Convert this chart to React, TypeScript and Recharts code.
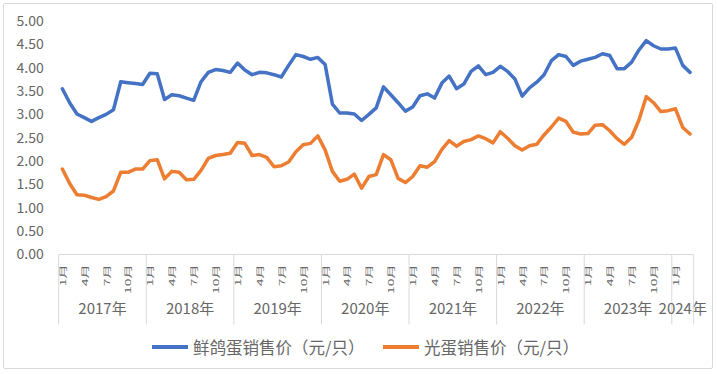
import React from 'react'
import { LineChart, Line, XAxis, YAxis } from 'recharts'

// categories
const years = ['2017年', '2018年', '2019年', '2020年', '2021年', '2022年', '2023年', '2024年']
const monthsInYear = [12, 12, 12, 12, 12, 12, 12, 3]

// 鲜鸽蛋销售价 (元/只), Jan 2017 - Mar 2024
const freshPigeonEgg = [
  3.55, 3.25, 3.01, 2.93, 2.85, 2.93, 3.0, 3.1, 3.7, 3.68, 3.66, 3.64,
  3.88, 3.87, 3.32, 3.42, 3.4, 3.35, 3.3, 3.7, 3.9, 3.96, 3.94, 3.9,
  4.1, 3.95, 3.85, 3.9, 3.89, 3.85, 3.8, 4.05, 4.28, 4.24, 4.18, 4.22,
  4.07, 3.22, 3.03, 3.03, 3.01, 2.87, 3.0, 3.14, 3.59, 3.42, 3.25, 3.07,
  3.16, 3.4, 3.44, 3.35, 3.67, 3.82, 3.55, 3.65, 3.92, 4.04, 3.85, 3.9,
  4.03, 3.92, 3.76, 3.39, 3.57, 3.69, 3.85, 4.15, 4.28, 4.24, 4.05, 4.14,
  4.18, 4.22, 4.3, 4.26, 3.98, 3.98, 4.12, 4.38, 4.58, 4.47, 4.4, 4.4,
  4.42, 4.05, 3.9
]

// 光蛋销售价 (元/只)
const plainEgg = [
  1.83, 1.52, 1.28, 1.27, 1.22, 1.18, 1.24, 1.36, 1.76, 1.76, 1.83, 1.83,
  2.01, 2.03, 1.62, 1.78, 1.76, 1.6, 1.61, 1.8, 2.06, 2.12, 2.14, 2.17,
  2.4, 2.38, 2.12, 2.14, 2.08, 1.88, 1.9, 1.98, 2.2, 2.35, 2.38, 2.54,
  2.24, 1.78, 1.57, 1.61, 1.72, 1.42, 1.67, 1.71, 2.14, 2.03, 1.63, 1.54,
  1.67, 1.9, 1.87, 1.99, 2.25, 2.44, 2.32, 2.42, 2.46, 2.54, 2.48, 2.39,
  2.63, 2.49, 2.33, 2.24, 2.33, 2.36, 2.56, 2.73, 2.92, 2.85, 2.62, 2.58,
  2.59, 2.77, 2.78, 2.65, 2.48, 2.36, 2.51, 2.88, 3.38, 3.25, 3.06, 3.08,
  3.12, 2.72, 2.58
]

const yTicks = [0, 0.5, 1, 1.5, 2, 2.5, 3, 3.5, 4, 4.5, 5]

const SERIES = [
  { key: 'fresh', name: '鲜鸽蛋销售价（元/只）', color: '#4472C4', legendLeft: 152 },
  { key: 'plain', name: '光蛋销售价（元/只）', color: '#ED7D31', legendLeft: 383 }
]

const rows: { idx: number; yearIdx: number; month: number; fresh: number; plain: number }[] = []
years.forEach((_, yi) => {
  for (let m = 1; m <= monthsInYear[yi]; m++) {
    const i = rows.length
    rows.push({ idx: i, yearIdx: yi, month: m, fresh: freshPigeonEgg[i], plain: plainEgg[i] })
  }
})

const W = 717
const H = 374
const PLOT_LEFT = 58.7
const PLOT_RIGHT = 693.7
const PLOT_TOP = 21
const PLOT_BOTTOM = 254.5
const X_AXIS_H = 70
const STEP = (PLOT_RIGHT - PLOT_LEFT) / rows.length
const FONT = '"Noto Sans CJK SC", "Noto Sans", sans-serif'
const GRID = '#d9d9d9'
const TEXT = '#666'

function MonthTick(props: any) {
  const { x, y, index } = props
  const row = rows[index]
  if (!row) return null
  const out: React.ReactNode[] = []
  if (row.month % 3 === 1) {
    out.push(
      <text
        key="m"
        transform={`translate(${x},${y + 10}) rotate(-90) scale(1,0.55)`}
        textAnchor="end"
        dominantBaseline="central"
        fontSize={14}
        fill={TEXT}
        fontFamily={FONT}
      >
        {row.month}月
      </text>
    )
  }
  if (row.month === 1) {
    const left = x - STEP / 2
    const span = monthsInYear[row.yearIdx] * STEP
    out.push(<line key="s" x1={left} x2={left} y1={y} y2={y + 70} stroke={GRID} />)
    out.push(
      <text
        key="y"
        x={left + span / 2}
        y={y + 59}
        textAnchor="middle"
        fontSize={15}
        fill={TEXT}
        fontFamily={FONT}
      >
        {years[row.yearIdx]}
      </text>
    )
  }
  if (index === rows.length - 1) {
    const right = x + STEP / 2
    out.push(<line key="e" x1={right} x2={right} y1={y} y2={y + 70} stroke={GRID} />)
  }
  return <g>{out}</g>
}

export default function App() {
  return (
    <div style={{ position: 'relative', width: W, height: H, background: '#fff', fontFamily: FONT }}>
      <style>{'body{margin:0}'}</style>
      <div
        style={{
          position: 'absolute',
          left: 3,
          top: 3,
          width: 708,
          height: 364,
          border: `1px solid ${GRID}`,
          borderRadius: 2
        }}
      />
      <LineChart
        width={W}
        height={H}
        data={rows}
        margin={{ top: PLOT_TOP, right: W - PLOT_RIGHT, left: PLOT_LEFT - 50, bottom: H - PLOT_BOTTOM - X_AXIS_H }}
      >
        <XAxis
          dataKey="idx"
          type="category"
          interval={0}
          height={X_AXIS_H}
          padding={{ left: STEP / 2, right: STEP / 2 }}
          axisLine={{ stroke: GRID }}
          tickLine={false}
          tickSize={0}
          tickMargin={0}
          tick={<MonthTick />}
        />
        <YAxis
          width={50}
          domain={[0, 5]}
          ticks={yTicks}
          axisLine={false}
          tickLine={false}
          tickSize={0}
          tickMargin={15}
          tickFormatter={(v: number) => v.toFixed(2)}
          tick={{ fontSize: 14, fill: TEXT, fontFamily: FONT }}
        />
        {SERIES.map(s => (
          <Line
            key={s.key}
            dataKey={s.key}
            name={s.name}
            type="linear"
            stroke={s.color}
            strokeWidth={3.5}
            strokeLinejoin="round"
            strokeLinecap="round"
            dot={false}
            activeDot={false}
            isAnimationActive={false}
          />
        ))}
      </LineChart>
      {SERIES.map(s => (
        <div
          key={s.key}
          style={{
            position: 'absolute',
            top: 336,
            left: s.legendLeft,
            display: 'flex',
            alignItems: 'center',
            fontSize: 16.5,
            color: TEXT,
            lineHeight: '22px',
            whiteSpace: 'nowrap'
          }}
        >
          <span style={{ display: 'inline-block', width: 36, height: 4, background: s.color, marginRight: 5 }} />
          <span>{s.name}</span>
        </div>
      ))}
    </div>
  )
}
